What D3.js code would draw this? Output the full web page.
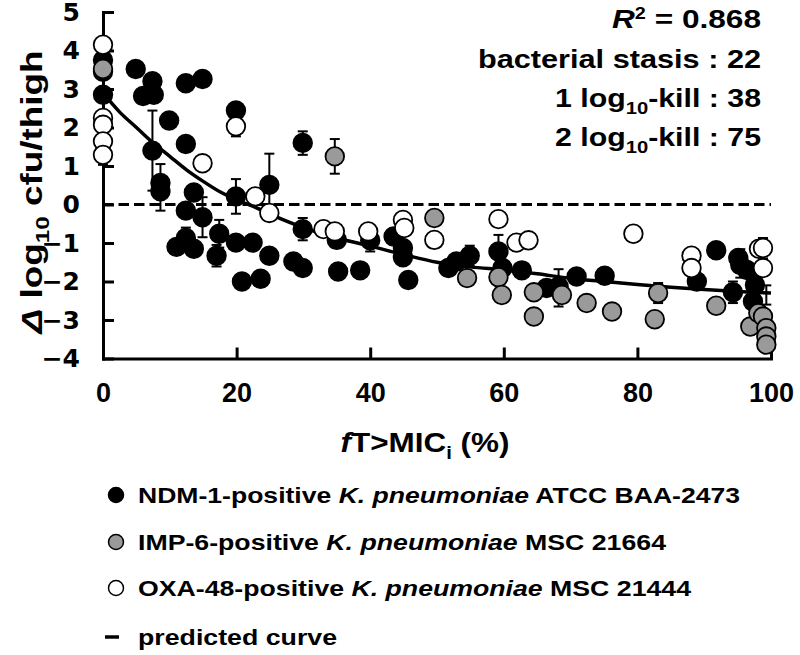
<!DOCTYPE html>
<html><head><meta charset="utf-8">
<script src="https://cdn.jsdelivr.net/npm/d3@7"></script>
<style>
body{margin:0;background:#fff}
text{font-family:"Liberation Sans",Arial,sans-serif;font-weight:bold;fill:#000}
</style>
</head><body>
<svg id="c" width="800" height="655"></svg>
<script>
// ---------- data ----------
const xTicks = [0, 20, 40, 60, 80, 100];
const yTicks = [-4, -3, -2, -1, 0, 1, 2, 3, 4, 5];

// NDM-1-positive K. pneumoniae ATCC BAA-2473  [fT>MIC %, delta log10 cfu]
const ndm = [
  [0,3.75],[0,3.45],[0,2.85],[4.9,3.52],[6.0,2.82],[7.4,3.2],[7.6,2.85],[7.4,1.4],
  [8.6,0.56],[8.6,0.34],[9.9,2.18],[12.4,3.15],[14.9,3.26],[12.4,1.57],[19.9,2.44],
  [24.9,0.51],[29.9,1.6],[13.6,0.31],[12.4,-0.16],[14.9,-0.33],[19.9,0.21],[12.4,-0.87],
  [11.0,-1.1],[13.6,-1.15],[17.4,-0.76],[17.0,-1.33],[19.9,-0.99],[22.4,-0.99],[24.9,-1.33],
  [28.5,-1.48],[29.9,-1.65],[20.8,-2.0],[23.6,-1.93],[29.9,-0.64],[35.0,-0.92],[35.2,-1.74],
  [38.5,-1.71],[40.0,-0.93],[43.5,-0.83],[44.9,-1.13],[44.9,-1.37],[45.7,-1.96],[51.7,-1.65],
  [52.9,-1.48],[54.9,-1.33],[59.2,-1.22],[59.8,-1.65],[62.7,-1.71],[66.4,-2.17],[68.2,-2.13],
  [70.9,-1.87],[75.1,-1.85],[88.9,-2.0],[91.8,-1.19],[94.3,-2.28],[95.1,-1.39],[95.4,-1.57],
  [96.4,-1.7],[97.6,-2.09],[97.3,-2.52]
];
// IMP-6-positive K. pneumoniae MSC 21664
const imp = [
  [0,3.52],[34.7,1.25],[49.6,-0.35],[54.5,-1.91],[59.2,-1.89],[59.7,-2.35],[64.5,-2.28],
  [64.5,-2.91],[68.7,-2.35],[72.4,-2.56],[76.2,-2.78],[83.1,-2.3],[82.6,-2.98],[91.8,-2.63],
  [96.9,-3.17],[98.1,-2.82],[98.8,-2.91],[99.3,-3.21],[99.3,-3.43],[99.3,-3.64]
];
// OXA-48-positive K. pneumoniae MSC 21444
const oxa = [
  [0,4.15],[0,2.25],[0,2.07],[0,1.64],[0,1.29],[19.9,2.03],[14.9,1.07],[22.8,0.21],
  [24.9,-0.22],[33.0,-0.64],[34.7,-0.7],[39.7,-0.7],[44.9,-0.4],[45.1,-0.61],[49.6,-0.92],
  [59.2,-0.38],[61.9,-0.99],[63.7,-0.93],[79.4,-0.76],[88.1,-1.33],[88.1,-1.65],
  [98.2,-1.15],[98.8,-1.13],[98.8,-1.65]
];
// error bars [x, low, high]
const errorBars = [
  [0,1.03,3.97],[7.4,0.36,2.44],[8.6,-0.16,1.05],[19.9,1.77,2.29],[14.9,-0.85,0.19],
  [12.4,-1.14,-0.6],[19.9,-0.24,0.66],[24.9,-0.3,1.32],[17.4,-1.12,-0.4],[17.0,-1.61,-1.05],
  [29.9,1.29,1.9],[34.7,0.8,1.7],[29.9,-0.93,-0.35],[40.0,-1.22,-0.64],[54.9,-1.6,-1.07],
  [59.2,-1.65,-0.79],[68.2,-2.65,-1.68],[83.1,-2.56,-2.04],[94.3,-2.56,-2.0],[95.4,-1.9,-1.16],
  [98.8,-1.4,-0.87],[99.3,-2.6,-2.1]
];
// predicted curve
const curveX = [0,2.5,5,7.5,10,12.5,15,17.5,20,22.5,25,30,35,40,45,50,55,60,65,70,75,80,85,90,95,100];
const curveY = [2.9,2.4,2.0,1.6,1.25,0.9,0.6,0.33,0.12,-0.05,-0.25,-0.6,-0.87,-1.08,-1.3,-1.5,-1.62,-1.7,-1.8,-1.92,-2.0,-2.08,-2.15,-2.21,-2.26,-2.3];

const seriesNames = ["NDM-1-positive ", "IMP-6-positive ", "OXA-48-positive "];
const seriesStrains = ["ATCC BAA-2473", "MSC 21664", "MSC 21444"];
const seriesFills = ["#000000", "#9a9a9a", "#ffffff"];
const statLabels = ["bacterial stasis", "1 log", "2 log"];
const statValues = [22, 38, 75];
const r2 = "0.868";

// ---------- drawing ----------
const svg = d3.select("#c");
const x = d3.scaleLinear().domain([0, 100]).range([103, 771]);
const y = d3.scaleLinear().domain([-4, 5]).range([358.5, 12]);

// zero line
svg.append("line").attr("x1", x(0)).attr("x2", x(100)).attr("y1", y(0)).attr("y2", y(0))
  .attr("stroke", "#000").attr("stroke-width", 3).attr("stroke-dasharray", "10.5,5");

// axes
const yAxis = d3.axisLeft(y).tickValues(yTicks).tickSizeInner(-11).tickSizeOuter(0).tickPadding(23);
const xAxis = d3.axisBottom(x).tickValues(xTicks).tickSizeInner(-11).tickSizeOuter(0).tickPadding(24);
const gy = svg.append("g").attr("transform", `translate(${x(0)},0)`).call(yAxis);
const gx = svg.append("g").attr("transform", `translate(0,${y(-4)})`).call(xAxis);
[gx, gy].forEach(g => {
  g.select(".domain").attr("stroke-width", 3).attr("stroke-linecap", "square");
  g.selectAll(".tick line").attr("stroke-width", 3);
  g.selectAll("text").style("font-weight", "bold");
});
gy.selectAll("text").style("font-size", "25px").style("font-family", '"DejaVu Sans",sans-serif');
gx.selectAll("text").style("font-size", "27px").style("font-family", '"Liberation Sans",Arial,sans-serif');

// error bars
const eb = svg.append("g").attr("stroke", "#000").attr("stroke-width", 2);
errorBars.forEach(([ex, lo, hi]) => {
  eb.append("line").attr("x1", x(ex)).attr("x2", x(ex)).attr("y1", y(lo)).attr("y2", y(hi));
  [lo, hi].forEach(v => eb.append("line").attr("x1", x(ex) - 5).attr("x2", x(ex) + 5).attr("y1", y(v)).attr("y2", y(v)));
});

// curve
svg.append("path").datum(curveX.map((v, i) => [v, curveY[i]]))
  .attr("fill", "none").attr("stroke", "#000").attr("stroke-width", 3.5)
  .attr("d", d3.line().x(d => x(d[0])).y(d => y(d[1])).curve(d3.curveMonotoneX));

// points
[ndm, imp, oxa].forEach((s, i) => {
  svg.append("g").selectAll("circle").data(s).join("circle")
    .attr("cx", d => x(d[0])).attr("cy", d => y(d[1])).attr("r", 9.3)
    .attr("fill", seriesFills[i]).attr("stroke", "#000").attr("stroke-width", 1.8);
});

// annotations (top right)
const ann = svg.append("g").attr("font-size", 25.5);
const a0 = ann.append("text").attr("x", 761).attr("y", 28).attr("text-anchor", "end")
  .attr("textLength", 149).attr("lengthAdjust", "spacingAndGlyphs");
a0.append("tspan").attr("font-style", "italic").text("R");
a0.append("tspan").attr("font-size", 16).attr("dy", -9).text("2");
a0.append("tspan").attr("dy", 9).text(" = " + r2);
ann.append("text").attr("x", 761).attr("y", 68).attr("text-anchor", "end")
  .attr("textLength", 283).attr("lengthAdjust", "spacingAndGlyphs")
  .text(statLabels[0] + " : " + statValues[0]);
[1, 2].forEach((k, j) => {
  const t = ann.append("text").attr("x", 761).attr("y", 107 + j * 39).attr("text-anchor", "end")
    .attr("textLength", 206).attr("lengthAdjust", "spacingAndGlyphs");
  t.append("tspan").text(statLabels[k]);
  t.append("tspan").attr("font-size", 17).attr("dy", 7).text("10");
  t.append("tspan").attr("dy", -7).text("-kill : " + statValues[k]);
});

// axis titles
const yt = svg.append("text").attr("transform", "translate(42,192) rotate(-90)").attr("text-anchor", "middle")
  .attr("font-size", 29).attr("textLength", 283).attr("lengthAdjust", "spacingAndGlyphs");
yt.append("tspan").attr("font-style", "italic").text("Δ");
yt.append("tspan").text(" log");
yt.append("tspan").attr("font-size", 19).attr("dy", 7).text("10");
yt.append("tspan").attr("dy", -7).text(" cfu/thigh");

const xt = svg.append("text").attr("x", 425).attr("y", 452).attr("text-anchor", "middle")
  .attr("font-size", 28).attr("textLength", 169).attr("lengthAdjust", "spacingAndGlyphs");
xt.append("tspan").attr("font-style", "italic").text("f");
xt.append("tspan").text("T>MIC");
xt.append("tspan").attr("font-size", 18).attr("dy", 7).text("i");
xt.append("tspan").attr("dy", -7).text(" (%)");

// legend
const legY = [495, 542, 588];
const legLen = [602, 528, 553];
const lg = svg.append("g").attr("font-size", 22);
[0, 1, 2].forEach(i => {
  lg.append("circle").attr("cx", 116).attr("cy", legY[i]).attr("r", 7.5)
    .attr("fill", seriesFills[i]).attr("stroke", "#000").attr("stroke-width", 1.5);
  const t = lg.append("text").attr("x", 138).attr("y", legY[i] + 8)
    .attr("textLength", legLen[i]).attr("lengthAdjust", "spacingAndGlyphs");
  t.append("tspan").text(seriesNames[i]);
  t.append("tspan").attr("font-style", "italic").text("K. pneumoniae");
  t.append("tspan").text(" " + seriesStrains[i]);
});
lg.append("line").attr("x1", 105).attr("x2", 119).attr("y1", 637).attr("y2", 637).attr("stroke", "#000").attr("stroke-width", 3.5);
lg.append("text").attr("x", 138).attr("y", 645).attr("textLength", 199).attr("lengthAdjust", "spacingAndGlyphs").text("predicted curve");
</script>
</body></html>
